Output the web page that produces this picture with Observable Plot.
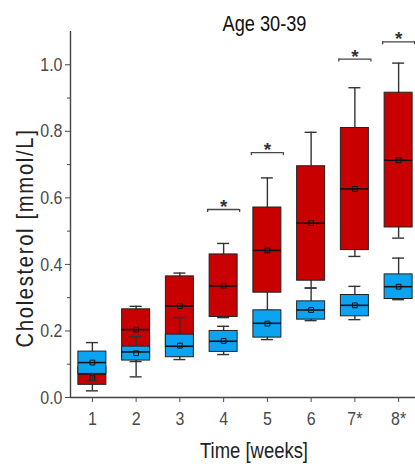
<!DOCTYPE html>
<html><head><meta charset="utf-8">
<script src="https://cdn.jsdelivr.net/npm/d3@7"></script>
<script src="https://cdn.jsdelivr.net/npm/@observablehq/plot@0.6"></script>
<style>
html,body{margin:0;padding:0;background:#fff;overflow:hidden;}
#chart{position:relative;width:415px;height:466px;overflow:hidden;}
</style></head><body><div id="chart"></div>
<script>
const weeks = [1, 2, 3, 4, 5, 6, 7, 8];
const weekLabels = ["1", "2", "3", "4", "5", "6", "7*", "8*"];

// red group (upper boxes)
const redLow  = [0.020, 0.108, 0.125, 0.240, 0.250, 0.329, 0.424, 0.479];
const redQ1   = [0.038, 0.120, 0.150, 0.242, 0.315, 0.351, 0.443, 0.511];
const redMed  = [0.071, 0.204, 0.275, 0.335, 0.442, 0.524, 0.627, 0.713];
const redQ3   = [0.090, 0.265, 0.364, 0.430, 0.571, 0.695, 0.810, 0.916];
const redHigh = [0.110, 0.274, 0.374, 0.463, 0.660, 0.797, 0.931, 1.005];
const redMean = [0.058, 0.204, 0.275, 0.336, 0.442, 0.524, 0.627, 0.713];

// blue group (lower boxes)
const blueLow  = [0.050, 0.062, 0.114, 0.129, 0.174, 0.231, 0.234, 0.294];
const blueQ1   = [0.071, 0.111, 0.121, 0.137, 0.180, 0.234, 0.244, 0.296];
const blueMed  = [0.105, 0.137, 0.154, 0.169, 0.223, 0.263, 0.277, 0.333];
const blueQ3   = [0.138, 0.153, 0.189, 0.200, 0.262, 0.289, 0.308, 0.370];
const blueHigh = [0.165, 0.183, 0.240, 0.214, 0.262, 0.329, 0.334, 0.419];
const blueMean = [0.105, 0.133, 0.156, 0.170, 0.222, 0.263, 0.277, 0.333];

// significance brackets
const sigWeeks = [4, 5, 7, 8];
const sigLevel = [0.565, 0.736, 1.017, 1.069];

const yTicks = [0, 0.2, 0.4, 0.6, 0.8, 1.0];
const yMinorTicks = [0.1, 0.3, 0.5, 0.7, 0.9];
const xDomain = [0.5, 8.5];
const yDomain = [0, 1.1];

const title = "Age 30-39";
const xTitle = "Time [weeks]";
const yTitle = "Cholesterol [mmol/L]";

const RED = "#c80000";
const BLUE = "#0ca3f2";
const FONT = '"Liberation Sans Narrow","Arial Narrow","Liberation Sans",Arial,sans-serif';
const BOX_HALF = 0.32, CAP_HALF = 0.137, BR_HALF = 0.366;

function rows(low, q1, med, q3, high, mean) {
  return weeks.map((w, i) => ({week: w, low: low[i], q1: q1[i], med: med[i], q3: q3[i], high: high[i], mean: mean[i]}));
}
const red = rows(redLow, redQ1, redMed, redQ3, redHigh, redMean);
const blue = rows(blueLow, blueQ1, blueMed, blueQ3, blueHigh, blueMean);
const sig = sigWeeks.map((w, i) => ({week: w, y: sigLevel[i]}));

function boxMarks(data, fill) {
  return [
    Plot.ruleX(data, {x: "week", y1: "low", y2: "high", stroke: "#333", strokeWidth: 1.4}),
    Plot.ruleY(data, {y: "low", x1: d => d.week - CAP_HALF, x2: d => d.week + CAP_HALF, stroke: "#333", strokeWidth: 1.4}),
    Plot.ruleY(data, {y: "high", x1: d => d.week - CAP_HALF, x2: d => d.week + CAP_HALF, stroke: "#333", strokeWidth: 1.4}),
    Plot.rect(data, {x1: d => d.week - BOX_HALF, x2: d => d.week + BOX_HALF, y1: "q1", y2: "q3", fill, stroke: "#222", strokeWidth: 1}),
    Plot.ruleY(data, {y: "med", x1: d => d.week - BOX_HALF, x2: d => d.week + BOX_HALF, stroke: "#111", strokeWidth: 1.6}),
    Plot.dot(data, {x: "week", y: "mean", symbol: "square", r: 2.7, stroke: "#111", strokeWidth: 1, fill: "none"})
  ];
}

const chart = Plot.plot({
  width: 415,
  height: 466,
  marginLeft: 70,
  marginRight: 0,
  marginTop: 31,
  marginBottom: 69,
  style: {fontFamily: FONT, background: "#fff"},
  x: {type: "linear", domain: xDomain, range: [70, 420]},
  y: {domain: yDomain},
  marks: [
    ...boxMarks(red, RED),
    ...boxMarks(blue, BLUE),
    Plot.ruleY(sig, {y: "y", x1: d => d.week - BR_HALF, x2: d => d.week + BR_HALF, stroke: "#444", strokeWidth: 1.3}),
    Plot.ruleX(sig, {x: d => d.week - BR_HALF, y1: "y", y2: d => d.y - 0.009, stroke: "#444", strokeWidth: 1.3}),
    Plot.ruleX(sig, {x: d => d.week + BR_HALF, y1: "y", y2: d => d.y - 0.009, stroke: "#444", strokeWidth: 1.3}),
    Plot.text(sig, {x: "week", y: "y", text: () => "*", dy: -10, fontSize: 19, fontWeight: "bold", fill: "#333", lineAnchor: "top"}),
    Plot.ruleX([xDomain[0]], {y1: yDomain[0], y2: yDomain[1], stroke: "#444", strokeWidth: 1.4}),
    Plot.ruleY([yDomain[0]], {stroke: "#444", strokeWidth: 1.4}),
    Plot.axisY(yTicks, {tickSize: 5, tickPadding: 3, tickFormat: d => d.toFixed(1), fontSize: 19, color: "#4a4a4a", label: null}),
    Plot.axisY(yMinorTicks, {tickSize: 3, tickFormat: () => "", color: "#4a4a4a", label: null}),
    Plot.axisX(weeks, {tickSize: 5, tickPadding: 9, tickFormat: d => weekLabels[d - 1], fontSize: 19, color: "#4a4a4a", label: null}),
    Plot.text([xTitle], {frameAnchor: "bottom", dx: 11, dy: 53, fontSize: 22, fill: "#222", lineAnchor: "middle", textAnchor: "middle"}),
    Plot.text([yTitle], {frameAnchor: "left", rotate: -90, dx: -45, dy: 23.5, fontSize: 24, fill: "#222", lineAnchor: "middle", textAnchor: "middle"}),
    Plot.text([title], {frameAnchor: "top", dx: 21.5, dy: -8, fontSize: 22, fill: "#111", lineAnchor: "middle", textAnchor: "middle"})
  ]
});
document.getElementById("chart").appendChild(chart);
// emulate the condensed typeface of the original
const fixedLengths = {[title]: 84, [xTitle]: 108, [yTitle]: 219};
d3.select(chart).selectAll("text").each(function () {
  const t = this.textContent;
  if (t === "*" || t === "") return;
  const sel = d3.select(this);
  if (t === yTitle) sel.attr("letter-spacing", "2px");
  let len = fixedLengths[t];
  if (len === undefined) len = this.getComputedTextLength() * 0.84;
  sel.attr("textLength", len).attr("lengthAdjust", "spacingAndGlyphs");
});
</script>
</body></html>
